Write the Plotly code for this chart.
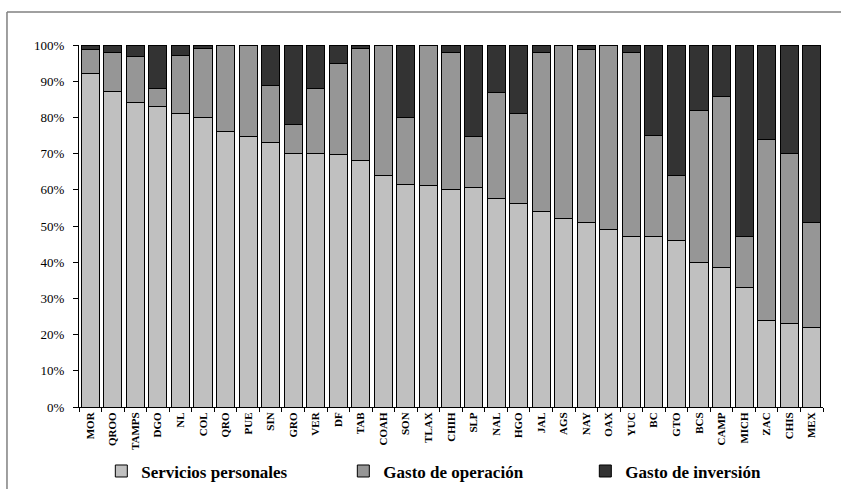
import plotly.graph_objects as go

estados = ["MOR", "QROO", "TAMPS", "DGO", "NL", "COL", "QRO", "PUE", "SIN", "GRO",
           "VER", "DF", "TAB", "COAH", "SON", "TLAX", "CHIH", "SLP", "NAL", "HGO",
           "JAL", "AGS", "NAY", "OAX", "YUC", "BC", "GTO", "BCS", "CAMP", "MICH",
           "ZAC", "CHIS", "MEX"]

servicios_personales = [92.0, 87.2, 84.0, 83.0, 81.1, 80.0, 76.1, 74.8, 73.1, 70.0,
                        70.0, 69.8, 68.1, 64.0, 61.4, 61.1, 60.0, 60.6, 57.6, 56.1,
                        54.0, 52.0, 51.1, 49.0, 47.0, 47.0, 46.1, 40.0, 38.5, 33.1,
                        24.0, 23.1, 22.0]

gasto_operacion = [6.8, 10.7, 12.9, 4.9, 15.9, 19.0, 23.9, 25.2, 15.7, 8.0,
                   18.0, 25.1, 30.9, 36.0, 18.7, 38.9, 38.0, 14.2, 29.3, 25.0,
                   44.0, 48.0, 47.7, 51.0, 51.0, 28.0, 17.9, 41.9, 47.3, 13.9,
                   50.0, 46.9, 29.1]

gasto_inversion = [1.2, 2.1, 3.1, 12.1, 3.0, 1.0, 0.0, 0.0, 11.2, 22.0,
                   12.0, 5.1, 1.0, 0.0, 19.9, 0.0, 2.0, 25.2, 13.1, 18.9,
                   2.0, 0.0, 1.2, 0.0, 2.0, 25.0, 36.0, 18.1, 14.2, 53.0,
                   26.0, 30.0, 48.9]

y_ticks = [0, 10, 20, 30, 40, 50, 60, 70, 80, 90, 100]
y_tick_labels = ["0%", "10%", "20%", "30%", "40%", "50%", "60%", "70%", "80%", "90%", "100%"]

series = [
    ("Servicios personales", servicios_personales, "#c0c0c0"),
    ("Gasto de operación", gasto_operacion, "#969696"),
    ("Gasto de inversión", gasto_inversion, "#333333"),
]

fig = go.Figure()
for name, vals, color in series:
    fig.add_trace(go.Bar(
        x=estados, y=vals, name=name,
        marker=dict(color=color, line=dict(color="#000000", width=1)),
    ))

serif = "Liberation Serif"

fig.update_layout(
    barmode="stack",
    bargap=0.2,
    width=841, height=489,
    margin=dict(l=79, r=18, t=45, b=82, autoexpand=False),
    paper_bgcolor="white",
    plot_bgcolor="white",
    font=dict(family=serif, color="black"),
    xaxis=dict(
        type="category",
        automargin=False,
        showline=True, linecolor="black", linewidth=1,
        ticks="outside", tickson="boundaries", ticklen=4, tickcolor="black",
        tickangle=-90,
        tickfont=dict(family=serif, size=11, color="black", weight="bold"),
        showgrid=False, zeroline=False,
    ),
    yaxis=dict(
        automargin=False,
        range=[0, 100],
        tickmode="array",
        tickvals=y_ticks,
        ticktext=y_tick_labels,
        showline=True, linecolor="black", linewidth=1,
        ticks="outside", ticklen=5, tickcolor="black",
        ticklabelstandoff=6,
        tickfont=dict(family=serif, size=13, color="black"),
        showgrid=False, zeroline=False,
    ),
    legend=dict(
        orientation="h",
        x=0.03, xanchor="left",
        y=-0.178, yanchor="middle",
        font=dict(family=serif, size=17, color="black", weight="bold"),
        entrywidth=197, entrywidthmode="pixels",
        traceorder="normal",
    ),
    showlegend=True,
    shapes=[
        dict(type="line", xref="paper", yref="paper",
             x0=-0.0968, x1=-0.0968, y0=-0.5, y1=1.091,
             line=dict(color="#808080", width=1.5)),
        dict(type="line", xref="paper", yref="paper",
             x0=-0.0968, x1=1.2, y0=1.091, y1=1.091,
             line=dict(color="#808080", width=1.5)),
    ],
)

fig.write_html("out.html")
